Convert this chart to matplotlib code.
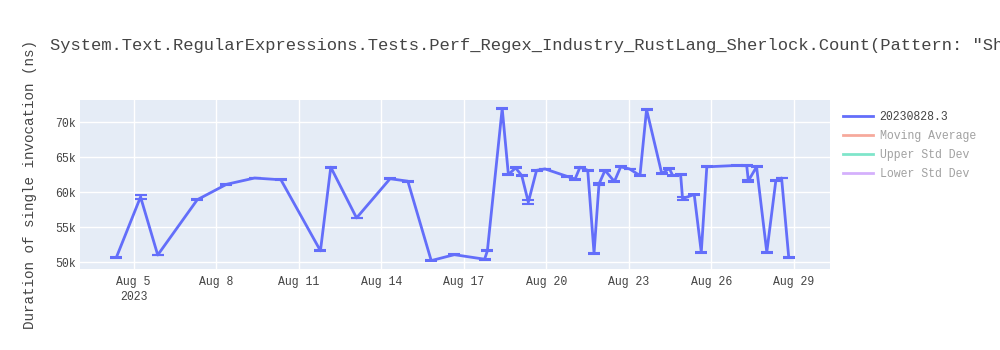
import numpy as np
import pandas as pd
import matplotlib
matplotlib.use("Agg")
import matplotlib.pyplot as plt
from matplotlib.lines import Line2D

# run timestamps and mean duration (ns) per run
run_times = [
    "2023-08-04 09:00", "2023-08-05 06:00", "2023-08-05 21:00", "2023-08-07 07:30",
    "2023-08-08 09:00", "2023-08-09 09:30", "2023-08-10 08:30", "2023-08-11 19:00",
    "2023-08-12 04:00", "2023-08-13 02:30", "2023-08-14 07:45", "2023-08-14 23:15",
    "2023-08-15 19:40", "2023-08-16 15:50", "2023-08-17 18:15", "2023-08-17 20:40",
    "2023-08-18 09:36", "2023-08-18 15:00", "2023-08-18 21:20", "2023-08-19 02:40",
    "2023-08-19 08:25", "2023-08-19 15:35", "2023-08-19 23:00", "2023-08-20 18:00",
    "2023-08-21 01:10", "2023-08-21 05:30", "2023-08-21 12:15", "2023-08-21 17:45",
    "2023-08-21 22:05", "2023-08-22 03:20", "2023-08-22 11:30", "2023-08-22 17:00",
    "2023-08-23 00:45", "2023-08-23 09:50", "2023-08-23 15:35", "2023-08-24 04:50",
    "2023-08-24 11:30", "2023-08-24 14:25", "2023-08-24 21:20", "2023-08-24 23:00",
    "2023-08-25 09:10", "2023-08-25 15:20", "2023-08-25 20:10", "2023-08-26 22:20",
    "2023-08-27 07:00", "2023-08-27 08:25", "2023-08-27 15:35", "2023-08-28 00:30",
    "2023-08-28 08:25", "2023-08-28 13:25", "2023-08-28 19:40",
]
durations = [
    50700, 59300, 51000, 58900, 61100, 62000, 61750, 51600,
    63550, 56300, 61900, 61550, 50200, 51050, 50400, 51600,
    71950, 62500, 63450, 62350, 58550, 63100, 63300, 62250,
    61850, 63550, 63100, 51250, 61150, 63100, 61500, 63600,
    63300, 62350, 71800, 62650, 63350, 62350, 62450, 59050,
    59650, 51400, 63600, 63800, 63750, 61600, 63600, 51400,
    61650, 62000, 50650,
]
std_devs = [
    60, 250, 60, 60, 60, 40, 60, 60,
    80, 60, 60, 60, 40, 40, 60, 60,
    80, 80, 80, 80, 300, 60, 40, 60,
    80, 80, 60, 60, 100, 80, 80, 60,
    40, 80, 80, 80, 60, 80, 60, 200,
    60, 60, 60, 60, 60, 100, 60, 60,
    100, 60, 60,
]

series_name = "20230828.3"
legend_names = [series_name, "Moving Average", "Upper Std Dev", "Lower Std Dev"]
legend_colors = ["#636efa", "#EF553B", "#00cc96", "#ab63fa"]

tick_dates = ["2023-08-05", "2023-08-08", "2023-08-11", "2023-08-14", "2023-08-17",
              "2023-08-20", "2023-08-23", "2023-08-26", "2023-08-29"]
tick_labels = ["Aug 5\n2023", "Aug 8", "Aug 11", "Aug 14", "Aug 17",
               "Aug 20", "Aug 23", "Aug 26", "Aug 29"]
y_ticks = [50000, 55000, 60000, 65000, 70000]
y_labels = ["50k", "55k", "60k", "65k", "70k"]

title = ('System.Text.RegularExpressions.Tests.Perf_Regex_Industry_RustLang_Sherlock'
         '.Count(Pattern: "Sh')

plt.rcParams['font.family'] = ['Liberation Mono', 'DejaVu Sans Mono']
text_col = "#444444"

x = pd.to_datetime(run_times)

fig = plt.figure(figsize=(10, 3.5), dpi=100)
ax = fig.add_axes([0.08, 0.2314, 0.75, 0.4829])
ax.set_facecolor("#E5ECF6")

ax.errorbar(x, durations, yerr=std_devs, color="#636efa", lw=2,
            ecolor="#636efa", elinewidth=1.5, capsize=4.5, capthick=1.5, zorder=3)

ax.set_xlim(pd.Timestamp("2023-08-03 01:10"), pd.Timestamp("2023-08-30 07:40"))
ax.set_ylim(49000, 73150)

ax.set_xticks(pd.to_datetime(tick_dates))
ax.set_xticklabels(tick_labels, linespacing=1.35)
ax.set_yticks(y_ticks)
ax.set_yticklabels(y_labels)

ax.grid(True, color="white", lw=1)
ax.set_axisbelow(True)
for s in ax.spines.values():
    s.set_visible(False)
ax.tick_params(length=0, labelsize=8.3, labelcolor=text_col)
ax.tick_params(axis="x", pad=5)
ax.tick_params(axis="y", pad=3)
for lab in ax.get_xticklabels():
    lab.set_multialignment("center")

ax.set_ylabel("Duration of single invocation (ns)", fontsize=10.3, color=text_col)
ax.yaxis.set_label_coords(-0.057, 0.5)

fig.text(0.05, 0.869, title, fontsize=12.3, color=text_col, va="center", ha="left")

handles = [Line2D([], [], color=legend_colors[0], lw=2)]
for c in legend_colors[1:]:
    handles.append(Line2D([], [], color=c, lw=2, alpha=0.5))
leg = fig.legend(handles, legend_names, loc="upper left", bbox_to_anchor=(0.838, 0.695),
                 frameon=False, fontsize=8.3, handlelength=2.6, handletextpad=0.6,
                 labelspacing=0.6, borderaxespad=0)
for i, t in enumerate(leg.get_texts()):
    t.set_color(text_col)
    if i > 0:
        t.set_alpha(0.5)

fig.savefig("out.png", dpi=100)
